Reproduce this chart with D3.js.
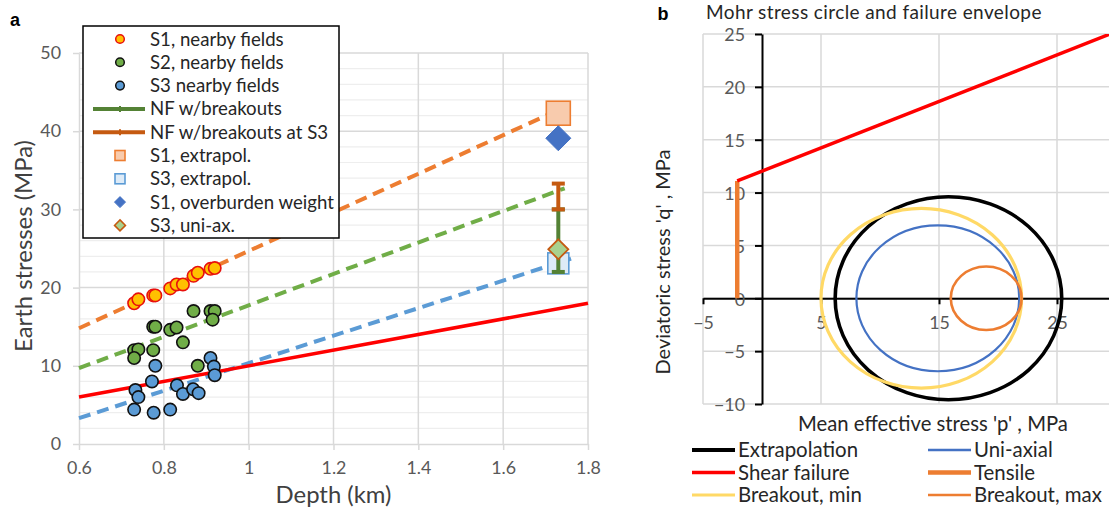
<!DOCTYPE html>
<html>
<head>
<meta charset="utf-8">
<script src="https://cdn.jsdelivr.net/npm/d3@7"></script>
<style>
  body { margin: 0; background: #fff; }
  svg { display: block; font-family: Lato, "Noto Sans", sans-serif; }
</style>
</head>
<body>
<svg id="canvas"></svg>
<script>
// ---------- panel a data ----------
let s1Depth  = [0.73, 0.74, 0.775, 0.78, 0.815, 0.83, 0.845, 0.87, 0.88, 0.91, 0.92];
let s1Stress = [18.0, 18.5, 19.0, 19.0, 19.9, 20.4, 20.4, 21.5, 21.9, 22.4, 22.5];

let s2Depth  = [0.87, 0.91, 0.92, 0.915, 0.775, 0.78, 0.815, 0.83, 0.845, 0.73, 0.74, 0.775, 0.73, 0.88];
let s2Stress = [17.0, 17.0, 17.0, 15.9, 15.0, 15.0, 14.6, 14.9, 13.0, 12.0, 12.1, 12.0, 11.0, 10.0];

let s3Depth  = [0.91, 0.918, 0.92, 0.78, 0.772, 0.733, 0.74, 0.831, 0.845, 0.869, 0.882, 0.73, 0.776, 0.815];
let s3Stress = [11.0, 9.9, 8.8, 10.0, 8.0, 6.9, 6.0, 7.5, 6.4, 7.0, 6.5, 4.4, 4.0, 4.4];

// trend lines (end points)
let s1TrendDepth = [0.6, 1.75],  s1TrendStress = [14.8, 43.2];
let s2TrendDepth = [0.6, 1.745], s2TrendStress = [9.7, 32.7];
let s3TrendDepth = [0.6, 1.76],  s3TrendStress = [3.3, 23.7];
let pressDepth   = [0.6, 1.8],   pressStress   = [6.0, 18.0];

// values at the target depth
let siteDepth = 1.73;
let s1Extrapol = 42.3;
let s3Extrapol = 23.1;
let s1Overburden = 39.1;
let s3UniAx = 24.9;
let nfBreakout = [22.0, 30.0];
let nfBreakoutS3 = [30.0, 33.3];

let depthTicks = [0.6, 0.8, 1, 1.2, 1.4, 1.6, 1.8];
let stressTicks = [0, 10, 20, 30, 40, 50];
let stressMinor = [2, 4, 6, 8, 12, 14, 16, 18, 22, 24, 26, 28, 32, 34, 36, 38, 42, 44, 46, 48];

let legendA = ["S1, nearby fields", "S2, nearby fields", "S3 nearby fields", "NF w/breakouts",
               "NF w/breakouts at S3", "S1, extrapol.", "S3, extrapol.", "S1, overburden weight", "S3, uni-ax."];

// ---------- panel b data ----------
let circleNames   = ["Extrapolation", "Uni-axial", "Breakout, min", "Breakout, max"];
let circleCenters = [15.8, 14.9, 13.5, 19.0];
let circleRadii   = [9.6, 6.9, 8.5, 3.0];

let tensileP = [-2.1, -2.1], tensileQ = [0, 11.1];
let shearP   = [-2.1, 29.5], shearQ   = [11.1, 25.0];

let pTicks = [-5, 5, 15, 25];
let qTicks = [-10, -5, 0, 5, 10, 15, 20, 25];

let legendB = ["Extrapolation", "Uni-axial", "Shear failure", "Tensile", "Breakout, min", "Breakout, max"];

// ---------- canvas ----------
let width = 1109;
let height = 508;

let canvas = d3.select("#canvas")
canvas.attr("width", width)
canvas.attr("height", height)

let grey = "#595959";
let dark = "#262626";

// font size that makes a string as wide as in the reference (Calibri is not installed)
let probe = canvas.append("text").attr("font-size", 100).attr("visibility", "hidden");
let fitSize = (str, target) => {
  probe.text(str);
  return 100 * target / probe.node().getComputedTextLength();
};
let tickFont = fitSize("20", 20.7);
let legFontA = fitSize("S1, overburden weight", 184);
let legFontB = fitSize("Breakout, max", 128);
let fsEarth = fitSize("Earth stresses (MPa)", 212);
let fsDepth = fitSize("Depth (km)", 116);
let fsDev = fitSize("Deviatoric stress 'q' , MPa", 225);
let fsMean = fitSize("Mean effective stress 'p' , MPa", 270);
probe.remove();

// =============== panel a ===============
let xA = d3.scaleLinear().domain([0.6, 1.8]).range([79, 588]);
let yA = d3.scaleLinear().domain([0, 50]).range([444, 53]);

let gA = canvas.append("g");

// gridlines
gA.selectAll(".minor").data(stressMinor).enter().append("line")
    .attr("x1", xA(0.6)).attr("x2", xA(1.8))
    .attr("y1", d => yA(d)).attr("y2", d => yA(d))
    .attr("stroke", "#eeeeee").attr("stroke-width", 1.2);

gA.selectAll(".major").data(stressTicks.slice(1)).enter().append("line")
    .attr("x1", xA(0.6)).attr("x2", xA(1.8))
    .attr("y1", d => yA(d)).attr("y2", d => yA(d))
    .attr("stroke", "#d9d9d9").attr("stroke-width", 1.5);

gA.selectAll(".vgrid").data(depthTicks.slice(1)).enter().append("line")
    .attr("x1", d => xA(d)).attr("x2", d => xA(d))
    .attr("y1", yA(0)).attr("y2", yA(50))
    .attr("stroke", "#d9d9d9").attr("stroke-width", 1.5);

// axes
let xAxisA = d3.axisBottom(xA).tickValues(depthTicks).tickFormat(d => String(+d.toFixed(1)))
    .tickSizeInner(6).tickSizeOuter(0).tickPadding(11);
let yAxisA = d3.axisLeft(yA).tickValues(stressTicks).tickSizeInner(6).tickSizeOuter(0).tickPadding(12);

let axA1 = gA.append("g").attr("transform", "translate(0," + yA(0) + ")").call(xAxisA);
let axA2 = gA.append("g").attr("transform", "translate(" + xA(0.6) + ",0)").call(yAxisA);
[axA1, axA2].forEach(a => {
  a.select(".domain").attr("stroke", "#d9d9d9").attr("stroke-width", 1.5);
  a.selectAll(".tick line").attr("stroke", "#d9d9d9").attr("stroke-width", 1.5);
  a.selectAll(".tick text").attr("fill", grey).attr("font-size", tickFont).attr("font-family", "Lato");
});

// trend lines
let lineA = d3.line().x(d => xA(d[0])).y(d => yA(d[1]));
let trends = [
  [s1TrendDepth, s1TrendStress, "#ED7D31"],
  [s2TrendDepth, s2TrendStress, "#70AD47"],
  [s3TrendDepth, s3TrendStress, "#5B9BD5"]
];
trends.forEach(t => {
  gA.append("path")
    .datum(d3.zip(t[0], t[1]))
    .attr("d", lineA)
    .attr("fill", "none")
    .attr("stroke", t[2])
    .attr("stroke-width", 4)
    .attr("stroke-dasharray", "12,7");
});
gA.append("path")
  .datum(d3.zip(pressDepth, pressStress))
  .attr("d", lineA)
  .attr("fill", "none")
  .attr("stroke", "#FF0000")
  .attr("stroke-width", 3.5);

// scatter points
let drawDots = (depths, stresses, fill, stroke) => {
  gA.append("g").selectAll("circle")
    .data(d3.zip(depths, stresses))
    .enter()
    .append("circle")
    .attr("cx", d => xA(d[0]))
    .attr("cy", d => yA(d[1]))
    .attr("r", 6.2)
    .attr("fill", fill)
    .attr("stroke", stroke)
    .attr("stroke-width", 1.6);
};
drawDots(s3Depth, s3Stress, "#5B9BD5", "#111");
drawDots(s2Depth, s2Stress, "#70AD47", "#111");
drawDots(s1Depth, s1Stress, "#FFC000", "#E8100C");

// markers at the target depth
let square = (g, cx, cy, size, fill, stroke) => {
  g.append("rect")
    .attr("x", cx - size / 2).attr("y", cy - size / 2)
    .attr("width", size).attr("height", size)
    .attr("fill", fill).attr("stroke", stroke).attr("stroke-width", 1.6);
};
let diamond = (g, cx, cy, size, fill, stroke, sw) => {
  let h = size / 2;
  g.append("path")
    .attr("d", "M" + cx + "," + (cy - h) + "L" + (cx + h) + "," + cy + "L" + cx + "," + (cy + h) + "L" + (cx - h) + "," + cy + "Z")
    .attr("fill", fill).attr("stroke", stroke).attr("stroke-width", sw);
};
let errBar = (g, cx, lo, hi, color) => {
  g.append("line").attr("x1", cx).attr("x2", cx).attr("y1", lo).attr("y2", hi)
    .attr("stroke", color).attr("stroke-width", 4);
  [lo, hi].forEach(y => {
    g.append("line").attr("x1", cx - 6.5).attr("x2", cx + 6.5).attr("y1", y).attr("y2", y)
      .attr("stroke", color).attr("stroke-width", 4);
  });
};

let sx = xA(siteDepth);
square(gA, sx, yA(s1Extrapol), 24, "#F8CBAD", "#ED7D31");
square(gA, sx, yA(s3Extrapol), 21, "#DEEBF7", "#5B9BD5");
errBar(gA, sx, yA(nfBreakout[0]), yA(nfBreakout[1]), "#548235");
errBar(gA, sx, yA(nfBreakoutS3[0]), yA(nfBreakoutS3[1]), "#C55A11");
diamond(gA, sx, yA(s1Overburden), 25, "#4472C4", "#4472C4", 1);
diamond(gA, sx, yA(s3UniAx), 20, "#A9D18E", "#C55A11", 1.8);

// legend a
let legA = gA.append("g");
legA.append("rect")
  .attr("x", 83).attr("y", 26).attr("width", 256).attr("height", 212)
  .attr("fill", "#fff").attr("stroke", "#000").attr("stroke-width", 1.5);
legendA.forEach((name, i) => {
  let y = 39 + i * 23.3;
  let cx = 120;
  if (i < 3) {
    let fills = ["#FFC000", "#70AD47", "#5B9BD5"];
    let strokes = ["#E8100C", "#111", "#111"];
    legA.append("circle").attr("cx", cx).attr("cy", y).attr("r", 4.3)
      .attr("fill", fills[i]).attr("stroke", strokes[i]).attr("stroke-width", 1.5);
  } else if (i < 5) {
    let c = i === 3 ? "#548235" : "#C55A11";
    legA.append("line").attr("x1", 93).attr("x2", 145).attr("y1", y).attr("y2", y)
      .attr("stroke", c).attr("stroke-width", 4);
    legA.append("line").attr("x1", cx).attr("x2", cx).attr("y1", y - 3).attr("y2", y + 3)
      .attr("stroke", c).attr("stroke-width", 2);
  } else if (i === 5) {
    square(legA, cx, y, 10, "#F8CBAD", "#ED7D31");
  } else if (i === 6) {
    square(legA, cx, y, 10, "#DEEBF7", "#5B9BD5");
  } else if (i === 7) {
    diamond(legA, cx, y, 11, "#4472C4", "#4472C4", 1);
  } else {
    diamond(legA, cx, y, 11, "#A9D18E", "#C55A11", 1.5);
  }
  legA.append("text").attr("x", 150).attr("y", y).attr("dy", "0.35em")
    .attr("font-size", legFontA).attr("fill", dark).text(name);
});

// titles a
gA.append("text").attr("x", 15).attr("y", 20).attr("dy", "0.35em").attr("text-anchor", "middle")
  .attr("font-weight", "bold").attr("font-size", 18).attr("font-family", "Liberation Sans").text("a");
gA.append("text").attr("transform", "translate(24,246) rotate(-90)")
  .attr("text-anchor", "middle").attr("dy", "0.35em")
  .attr("font-size", fsEarth).attr("fill", "#404040").text("Earth stresses (MPa)");
gA.append("text").attr("x", (xA(0.6) + xA(1.8)) / 2).attr("y", 495).attr("dy", "0.35em")
  .attr("text-anchor", "middle").attr("font-size", fsDepth).attr("fill", "#404040").text("Depth (km)");

// =============== panel b ===============
let xB = d3.scaleLinear().domain([-5, 35]).range([703, 1175]);
let yB = d3.scaleLinear().domain([-10, 25]).range([404, 34]);

let gB = canvas.append("g");

gB.append("clipPath").attr("id", "clipB").append("rect")
  .attr("x", xB(-5)).attr("y", yB(25)).attr("width", xB(35) - xB(-5)).attr("height", yB(-10) - yB(25));

gB.selectAll(".hgrid").data(qTicks).enter().append("line")
  .attr("x1", xB(-5)).attr("x2", xB(35))
  .attr("y1", d => yB(d)).attr("y2", d => yB(d))
  .attr("stroke", "#d9d9d9").attr("stroke-width", 1.5);
gB.selectAll(".vgridb").data(pTicks).enter().append("line")
  .attr("x1", d => xB(d)).attr("x2", d => xB(d))
  .attr("y1", yB(-10)).attr("y2", yB(25))
  .attr("stroke", "#d9d9d9").attr("stroke-width", 1.5);

let xAxisB = d3.axisBottom(xB).tickValues(pTicks).tickSizeInner(6).tickSizeOuter(0).tickPadding(12);
let yAxisB = d3.axisLeft(yB).tickValues(qTicks).tickSizeInner(7).tickSizeOuter(0).tickPadding(10);

let axB1 = gB.append("g").attr("transform", "translate(0," + yB(0) + ")").call(xAxisB);
let axB2 = gB.append("g").attr("transform", "translate(" + xB(0) + ",0)").call(yAxisB);
[axB1, axB2].forEach(a => {
  a.select(".domain").attr("stroke", "#000").attr("stroke-width", 2);
  a.selectAll(".tick line").attr("stroke", "#000").attr("stroke-width", 2);
  a.selectAll(".tick text").attr("fill", grey).attr("font-size", tickFont).attr("font-family", "Lato");
});
axB2.selectAll(".tick text").attr("dy", "0.38em");

let lineB = d3.line().x(d => xB(d[0])).y(d => yB(d[1]));
let circleStyles = [
  ["#000000", 3.6],
  ["#4472C4", 2.2],
  ["#FFD966", 3.2],
  ["#ED7D31", 2.6]
];

let gPlotB = gB.append("g").attr("clip-path", "url(#clipB)");

circleNames.forEach((n, i) => {
  gPlotB.append("ellipse")
    .attr("cx", xB(circleCenters[i]))
    .attr("cy", yB(0))
    .attr("rx", xB(circleCenters[i] + circleRadii[i]) - xB(circleCenters[i]))
    .attr("ry", yB(0) - yB(circleRadii[i]))
    .attr("fill", "none")
    .attr("stroke", circleStyles[i][0])
    .attr("stroke-width", circleStyles[i][1]);
});

gPlotB.append("path").datum(d3.zip(tensileP, tensileQ)).attr("d", lineB)
  .attr("fill", "none").attr("stroke", "#ED7D31").attr("stroke-width", 4.5);
gPlotB.append("path").datum(d3.zip(shearP, shearQ)).attr("d", lineB)
  .attr("fill", "none").attr("stroke", "#FF0000").attr("stroke-width", 3.5);

// titles b
gB.append("text").attr("x", 663).attr("y", 14).attr("dy", "0.35em").attr("text-anchor", "middle")
  .attr("font-weight", "bold").attr("font-size", 18).attr("font-family", "Liberation Sans").text("b");
gB.append("text").attr("x", 706).attr("y", 18.8)
  .attr("font-size", 19).attr("letter-spacing", 0.4).attr("fill", dark)
  .text("Mohr stress circle and failure envelope");
gB.append("text").attr("transform", "translate(663,262) rotate(-90)")
  .attr("text-anchor", "middle").attr("dy", "0.35em")
  .attr("font-size", fsDev).attr("fill", dark).text("Deviatoric stress 'q' , MPa");
gB.append("text").attr("x", 933).attr("y", 424).attr("dy", "0.35em")
  .attr("text-anchor", "middle").attr("font-size", fsMean).attr("fill", dark).text("Mean effective stress 'p' , MPa");

// legend b
let legStyles = [
  ["#000000", 4], ["#4472C4", 2.5], ["#FF0000", 3.5], ["#ED7D31", 4.5], ["#FFD966", 3.2], ["#ED7D31", 2.6]
];
legendB.forEach((name, i) => {
  let col = i % 2, row = Math.floor(i / 2);
  let x0 = col === 0 ? 692 : 928;
  let y = 450 + row * 22.5;
  gB.append("line").attr("x1", x0).attr("x2", x0 + 43).attr("y1", y).attr("y2", y)
    .attr("stroke", legStyles[i][0]).attr("stroke-width", legStyles[i][1]);
  gB.append("text").attr("x", x0 + 46).attr("y", y).attr("dy", "0.35em")
    .attr("font-size", legFontB).attr("fill", dark).text(name);
});
</script>
</body>
</html>
